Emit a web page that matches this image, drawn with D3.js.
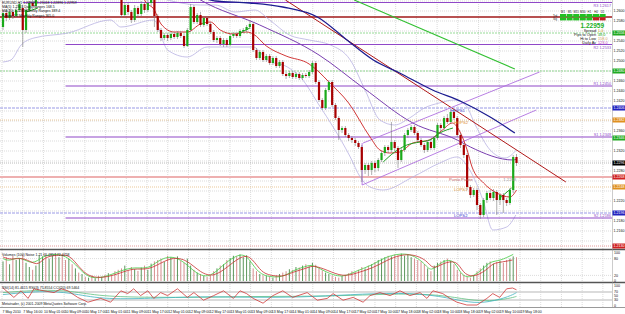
<!DOCTYPE html>
<html>
<head>
<meta charset="utf-8">
<script src="https://cdn.jsdelivr.net/npm/d3@7"></script>
<style>
body { margin: 0; background: #fff; }
svg { display: block; font-family: "Liberation Sans", Arial, sans-serif; }
</style>
</head>
<body>
<div id="chart"></div>
<script>
// prices are kept in 1/10000 (12596 = 1.2596)
var candles = [
  [12568,12602,12562,12596],[12596,12600,12580,12586],[12586,12604,12582,12598],[12598,12602,12584,12590],
  [12590,12608,12586,12602],[12602,12618,12598,12614],[12606,12612,12528,12562],[12562,12606,12556,12602],
  [12602,12620,12598,12616],[12616,12622,12604,12610],[12610,12638,12606,12632],[12632,12752,12626,12742],
  [12742,12802,12732,12782],[12782,12792,12752,12762],[12762,12822,12754,12812],[12812,12858,12802,12842],
  [12842,12852,12812,12822],[12822,12892,12814,12862],[12862,12872,12822,12832],[12832,12842,12794,12802],
  [12802,12834,12792,12822],[12822,12830,12774,12782],[12782,12802,12772,12792],[12792,12798,12754,12762],
  [12762,12782,12752,12772],[12772,12778,12734,12742],[12742,12762,12732,12752],[12752,12758,12714,12722],
  [12722,12742,12712,12732],[12732,12738,12694,12702],[12702,12722,12692,12712],[12712,12718,12674,12682],
  [12682,12702,12672,12692],[12692,12698,12654,12662],[12662,12670,12634,12642],[12642,12652,12624,12632],
  [12632,12638,12586,12592],[12592,12618,12588,12612],[12612,12616,12592,12598],[12598,12602,12576,12582],
  [12582,12612,12578,12606],[12606,12610,12588,12594],[12594,12620,12590,12614],[12614,12618,12596,12602],
  [12602,12622,12598,12616],[12616,12632,12610,12626],[12622,12628,12568,12590],[12590,12594,12558,12562],
  [12562,12566,12540,12546],[12546,12556,12542,12552],[12552,12556,12540,12546],[12546,12558,12542,12554],
  [12554,12558,12544,12548],[12548,12560,12544,12556],[12556,12560,12546,12550],[12550,12554,12526,12530],
  [12530,12566,12528,12562],[12562,12614,12558,12608],[12608,12612,12574,12578],[12578,12596,12574,12592],
  [12592,12598,12568,12572],[12572,12590,12568,12586],[12586,12590,12570,12574],[12574,12578,12554,12558],
  [12558,12562,12538,12542],[12542,12550,12536,12546],[12546,12550,12530,12534],[12534,12546,12528,12542],
  [12542,12546,12528,12532],[12532,12554,12530,12550],[12550,12558,12546,12554],[12554,12558,12546,12550],
  [12550,12564,12546,12560],[12560,12566,12556,12562],[12562,12572,12558,12568],[12568,12582,12564,12574],
  [12574,12578,12518,12522],[12522,12526,12502,12506],[12506,12522,12502,12518],[12518,12522,12498,12502],
  [12502,12514,12498,12510],[12510,12514,12492,12496],[12496,12510,12492,12506],[12506,12510,12486,12490],
  [12490,12502,12486,12498],[12498,12502,12470,12474],[12474,12478,12464,12470],[12470,12480,12466,12476],
  [12476,12480,12464,12468],[12468,12478,12464,12474],[12474,12478,12462,12466],[12466,12476,12462,12472],
  [12472,12476,12466,12470],[12470,12482,12466,12478],[12478,12500,12474,12496],[12496,12500,12454,12458],
  [12458,12462,12418,12422],[12422,12426,12402,12406],[12406,12446,12402,12442],[12442,12462,12438,12458],
  [12458,12462,12408,12412],[12412,12416,12382,12386],[12386,12390,12342,12362],[12362,12370,12356,12366],
  [12366,12370,12348,12352],[12352,12356,12340,12346],[12346,12350,12336,12342],[12342,12346,12330,12336],
  [12336,12340,12324,12328],[12328,12332,12258,12282],[12282,12296,12274,12292],[12292,12296,12270,12282],
  [12282,12300,12272,12296],[12296,12300,12278,12286],[12286,12306,12280,12302],[12302,12320,12298,12316],
  [12316,12332,12310,12328],[12328,12332,12316,12322],[12322,12378,12318,12338],[12338,12342,12320,12326],
  [12326,12330,12286,12302],[12302,12326,12298,12322],[12322,12356,12318,12352],[12352,12366,12346,12362],
  [12362,12372,12358,12368],[12368,12372,12352,12356],[12356,12360,12338,12342],[12342,12346,12328,12332],
  [12332,12336,12316,12322],[12322,12342,12318,12338],[12338,12342,12322,12326],[12326,12350,12322,12346],
  [12346,12376,12342,12372],[12372,12376,12360,12366],[12366,12390,12362,12386],[12386,12394,12374,12378],
  [12378,12404,12374,12398],[12398,12402,12382,12386],[12386,12390,12348,12352],[12352,12356,12326,12332],
  [12332,12336,12306,12312],[12312,12316,12242,12248],[12248,12252,12226,12232],[12232,12246,12228,12242],
  [12242,12246,12202,12212],[12212,12216,12184,12192],[12192,12226,12188,12222],[12222,12240,12216,12236],
  [12236,12242,12222,12226],[12226,12244,12220,12238],[12238,12242,12192,12222],[12222,12236,12212,12232],
  [12232,12236,12196,12222],[12222,12226,12210,12216],[12216,12246,12212,12242],[12242,12312,12236,12308],
  [12308,12314,12290,12296]
];

var volumes = [
  70,85,60,90,75,80,95,65,50,40, 55,92,88,95,80,90,98,85,92,75,
  80,60,45,30,25,15,12,20,10,18, 15,22,28,20,35,40,45,55,38,50,
  42,36,48,55,40,62,70,75,80,68, 90,85,78,88,72,65,80,55,40,30,
  25,18,15,20,35,45,55,60,75,82, 90,88,95,85,92,70,45,35,25,20,
  18,15,12,20,25,30,35,42,40,50, 48,55,60,52,65,58,45,38,30,25,
  20,15,12,18,22,28,35,32,40,50, 45,55,60,68,75,80,85,90,88,95,
  92,98,90,95,85,80,75,70,60,45, 35,55,65,70,75,80,72,60,40,30,
  22,15,12,20,35,45,55,65,70,62, 68,72,65,75,80,88,85
];
var volFast = [[0,80],[2,70],[5,90],[9,55],[12,90],[16,97],[19,90],[22,60],[25,20],[28,8],[32,18],[36,38],[40,50],[44,42],[47,72],[51,92],[55,70],[59,22],[63,12],[67,60],[71,93],[74,96],[77,35],[80,15],[85,12],[88,38],[92,52],[94,60],[98,32],[103,10],[107,35],[112,55],[116,85],[120,97],[124,97],[128,65],[130,30],[133,70],[137,80],[139,22],[142,8],[146,45],[148,70],[151,72],[155,95]];
var volSlow = [[0,86],[2.4,75],[6.4,86],[10.6,50],[12.4,86],[16.7,93],[19.7,93],[21.5,75],[24.5,29],[27.6,11],[31.8,14],[35.8,29],[39.7,46],[44,39],[47.9,64],[51.8,86],[56,75],[60,29],[64,14],[68.2,50],[72,86],[75,93],[78,39],[80.3,21],[85,14],[88,32],[92.4,46],[94.2,57],[98.5,39],[103.3,14],[107.6,29],[112.4,46],[116.7,75],[120.6,93],[124.5,96],[128.8,75],[130.6,39],[133.6,64],[137.9,75],[139.7,29],[142.7,11],[147,39],[148.8,64],[151.8,68],[154.8,75]];

var rsiFast = [[0,90],[3.3,43],[5.5,76],[7.6,38],[9.4,86],[12.4,76],[15.5,67],[17.6,86],[19.7,76],[22.7,43],[25.8,19],[29.7,38],[32.7,19],[35.8,76],[37.9,62],[39.7,86],[41.8,52],[44,76],[45.8,38],[47.9,67],[50,52],[53,86],[56,43],[58,67],[60.9,29],[64,52],[67,76],[70,38],[72,76],[74,62],[76,38],[79,14],[82,52],[85,76],[88,43],[92.4,67],[95.5,29],[98.5,38],[100.3,62],[103.3,29],[106.4,43],[109.4,19],[111.5,52],[114.5,67],[117.6,52],[120.6,76],[123.6,52],[126.7,67],[128.8,38],[130.6,76],[133.6,62],[135.8,38],[137.9,19],[140.9,5],[144,5],[147,38],[148.8,62],[150.9,43],[153,86],[154.8,90],[156,81]];
var rsiMid = [[0,57],[11.5,76],[20.6,67],[29.7,33],[44.8,38],[60,48],[75,43],[90.3,43],[105.5,57],[120.6,67],[132.7,52],[141.8,14],[147.9,19],[153.9,48],[156,67]];
var rsiSlow = [[0,67],[11.5,81],[20.6,76],[29.7,48],[44.8,43],[60,43],[75,48],[90.3,48],[105.5,52],[120.6,62],[132.7,57],[141.8,29],[147.9,24],[153.9,38],[156,48]];

var maRed = [[42,12640],[43,12622],[46,12602],[48,12574],[52,12558],[56,12558],[60,12574],[63,12578],[66,12562],[70,12554],[74,12558],[76,12554],[80,12530],[86,12510],[93,12494],[96,12478],[99,12458],[105,12416],[111.5,12348],[114.5,12322],[117.5,12316],[120.5,12318],[124.5,12336],[129.5,12342],[133.5,12362],[136.5,12376],[139,12356],[141,12322],[142.5,12288],[146,12256],[150,12236],[154,12228],[156,12242]];
var maPurple = [[58,12630],[60,12622],[78,12572],[96,12512],[109.5,12446],[124.5,12376],[138,12342],[142,12328],[155,12302],[156,12304]];
var maBlue = [[58,12634],[64.5,12620],[75,12616],[85,12608],[95.5,12588],[104.5,12542],[112.5,12502],[120.5,12476],[130.5,12442],[139.5,12418],[148,12388],[155.5,12356]];
var bandUpper = [[36,12642],[45,12632],[52.5,12618],[60,12612],[64.5,12612],[70.5,12598],[76.5,12602],[81,12582],[87,12552],[93,12542],[99.5,12532],[105.5,12502],[110,12442],[114.5,12382],[119,12372],[123.5,12386],[128,12406],[132.5,12416],[137,12422],[140.5,12412],[143.5,12372],[148,12322],[152.5,12306],[156,12322]];
var bandLower = [[0,12498],[2.4,12502],[5.5,12532],[9.4,12546],[19.7,12556],[32.7,12582],[35.8,12568],[45.8,12582],[50,12522],[56,12508],[62,12528],[70,12528],[76,12528],[80.3,12502],[86.4,12488],[90.3,12468],[96.4,12408],[100.3,12368],[105.5,12308],[108.5,12268],[111.5,12248],[115.5,12242],[124.5,12268],[132.7,12296],[137.9,12308],[141.8,12282],[145.8,12222],[148.8,12162],[153,12168],[155.8,12192]];
var greenSegs = [
  [[7,12598],[10.6,12606]],
  [[72,12556],[75,12566]],
  [[115.5,12298],[119,12318],[122.7,12332],[126.7,12338],[129.7,12342],[132.7,12356],[136.7,12366]],
  [[151,12226],[154.5,12246]]
];
var trendRed = [[85.8,12622],[171,12258]];
var trendGreen = [[106.7,12622],[155.5,12484]];
var channelUp = [[109.4,12336],[163,12478]];
var channelDown = [[109.1,12252],[162,12402]];
var channelEdge = [[109.1,12252],[109.1,12336]];

var pivotNames = ["R3", "R2", "R1", "S1", "S2"];
var pivotPrices = [12617, 12533, 12450, 12348, 12186];
var pivotFrom = [6, 19, 19, 19, 19];
var pivotBelow = [true, true, false, false, false];
var redLevel = 12588;

var levelPrices = [12556, 12480, 12406, 12382, 12296, 12268, 12248, 12196, 12130];
var levelColors = ["#7cd07c", "#7cd07c", "#9a9ae6", "#e6bb80", "#a8a8a8", "#eeb0b0", "#e6bb80", "#9a9ae6", "#e08080"];
var levelWidths = [0.8, 0.8, 1.1, 0.8, 0.8, 2, 0.8, 1.1, 0.8];
var levelDash = ["2,1", "2,1", "3,1", "1,1", "1,1", null, "1,1", "3,1", "1,1"];

var notes = [["HOPS1", 136, 12406, "#3a3ad0"], ["HOPS2", 137, 12382, "#e09030"], ["Punto Pivote", 135.5, 12268, "#c06060"],
             ["LOPS1", 137, 12248, "#e09030"], ["LOPS2", 137, 12196, "#3a3ad0"], ["1.2268", 152, 12268, "#999"]];

var tagPrices = [12556, 12480, 12406, 12382, 12346, 12296, 12268, 12248, 12196, 12130];
var tagColors = ["#22aa22", "#22aa22", "#2222c0", "#e09020", "#22aa22", "#000000", "#d02020", "#e09020", "#2222c0", "#d02020"];

var priceTicks = [12140,12160,12180,12200,12220,12240,12260,12280,12300,12320,12340,12360,12380,
                  12400,12420,12440,12460,12480,12500,12520,12540,12560,12580,12600,12620];
var volTicks = [0, 20, 80, 100];
var rsiTicks = [0, 30, 50, 70, 100];
var timeLabels = ["7 May 2010", "7 May 16:00", "10 May 01:00", "10 May 09:00", "10 May 17:00", "11 May 01:00",
  "11 May 09:00", "11 May 17:00", "12 May 01:00", "12 May 09:00", "12 May 17:00", "13 May 01:00",
  "13 May 09:00", "13 May 17:00", "14 May 01:00", "14 May 09:00", "14 May 17:00", "17 May 02:00",
  "17 May 10:00", "17 May 18:00", "18 May 02:00", "18 May 10:00", "18 May 18:00", "19 May 02:00",
  "19 May 10:00", "19 May 18:00"];

var legendLines = ["EURUSD,H1  1.22949 1.23018 1.22896 1.22959",
                   "MA(5) 1.2301   Daily Ranges 168.5",
                   "MA(20) 1.2283  Weekly Ranges 389.4",
                   "Range 1.2   Monthly Ranges 365.0"];
var frames = ["M1", "M5", "M15", "M30", "H1", "H4", "D1"];
var infoNames = ["Spread", "Pips to Open", "Hi to Low", "Daily Av"];
var infoValues = ["1.0", "48.0", "158.0", "123.0"];
var infoColors = ["#d0a000", "#22aa22", "#d0a060", "#c040c0"];

var W = 625, H = 314, plotR = 612;
var svg = d3.select("#chart").append("svg").attr("width", W).attr("height", H);
svg.append("rect").attr("width", W).attr("height", H).attr("fill", "#fff");

var x = d3.scaleLinear().domain([0, candles.length - 1]).range([3, 516.5]);
var y = d3.scaleLinear().domain([12124, 12622]).range([249, 0]);
var yVol = d3.scaleLinear().domain([0, 100]).range([281, 253]);
var yRsi = d3.scaleLinear().domain([0, 100]).range([306, 286]);
var tx = d3.scaleLinear().domain([0, timeLabels.length - 1]).range([2, 520]);

svg.append("clipPath").attr("id", "mainclip").append("rect")
  .attr("x", 0).attr("y", 0).attr("width", plotR).attr("height", 249);

// grid
var grid = svg.append("g").attr("stroke", "#c4c4c4").attr("stroke-width", 0.6).attr("stroke-dasharray", "1,1");
grid.selectAll(".gv").data(d3.range(30)).enter().append("line")
  .attr("x1", function (d) { return tx(d); }).attr("x2", function (d) { return tx(d); })
  .attr("y1", 0).attr("y2", 307);
grid.selectAll(".gh").data(priceTicks).enter().append("line")
  .attr("x1", 0).attr("x2", plotR)
  .attr("y1", function (d) { return y(d); }).attr("y2", function (d) { return y(d); });
grid.selectAll(".gvol").data([20, 80]).enter().append("line")
  .attr("x1", 0).attr("x2", plotR)
  .attr("y1", function (d) { return yVol(d); }).attr("y2", function (d) { return yVol(d); });

var main = svg.append("g").attr("clip-path", "url(#mainclip)");

// horizontal levels
main.selectAll(".lvl").data(levelPrices).enter().append("line")
  .attr("x1", 0).attr("x2", plotR)
  .attr("y1", function (d) { return y(d); }).attr("y2", function (d) { return y(d); })
  .attr("stroke", function (d, i) { return levelColors[i]; })
  .attr("stroke-width", function (d, i) { return levelWidths[i]; })
  .attr("stroke-dasharray", function (d, i) { return levelDash[i]; });
main.append("line").attr("x1", 0).attr("x2", plotR).attr("y1", y(redLevel)).attr("y2", y(redLevel))
  .attr("stroke", "#a01818").attr("stroke-width", 1.6);

var line = d3.line().x(function (d) { return x(d[0]); }).y(function (d) { return y(d[1]); });
var smooth = d3.line().x(function (d) { return x(d[0]); }).y(function (d) { return y(d[1]); }).curve(d3.curveMonotoneX);

// bands
[bandUpper, bandLower].forEach(function (b) {
  main.append("path").attr("d", smooth(b)).attr("fill", "none").attr("stroke", "#b9b2e2").attr("stroke-width", 0.8);
});

// pivots
main.selectAll(".pv").data(pivotPrices).enter().append("line")
  .attr("x1", function (d, i) { return x(pivotFrom[i]); }).attr("x2", plotR)
  .attr("y1", function (d) { return y(d); }).attr("y2", function (d) { return y(d); })
  .attr("stroke", "#9048c8").attr("stroke-width", 1.2);
main.selectAll(".pvt").data(pivotPrices).enter().append("text")
  .attr("x", plotR - 1).attr("y", function (d, i) { return pivotBelow[i] ? y(d) + 4.6 : y(d) - 1.3; })
  .attr("text-anchor", "end").attr("font-size", 3.8).attr("fill", "#9048c8")
  .text(function (d, i) { return pivotNames[i] + " " + (d / 10000).toFixed(4); });

// trend lines and channel
main.append("path").attr("d", line(trendGreen)).attr("stroke", "#33c033").attr("stroke-width", 1.1).attr("fill", "none");
main.append("path").attr("d", line(trendRed)).attr("stroke", "#b01818").attr("stroke-width", 1).attr("fill", "none");
[channelUp, channelDown, channelEdge].forEach(function (c) {
  main.append("path").attr("d", line(c)).attr("stroke", "#b070e0").attr("stroke-width", 0.9).attr("fill", "none");
});

// moving averages
main.append("path").attr("d", smooth(maBlue)).attr("fill", "none").attr("stroke", "#1c1c90").attr("stroke-width", 1.3);
main.append("path").attr("d", smooth(maPurple)).attr("fill", "none").attr("stroke", "#7a3fb0").attr("stroke-width", 1);
main.append("path").attr("d", smooth(maRed)).attr("fill", "none").attr("stroke", "#cc2020").attr("stroke-width", 0.9);
greenSegs.forEach(function (s) {
  main.append("path").attr("d", smooth(s)).attr("fill", "none").attr("stroke", "#22a022").attr("stroke-width", 1);
});

// candles
var up = "#1aaa1a", down = "#a80000";
var cg = main.selectAll(".candle").data(candles).enter().append("g");
cg.append("line")
  .attr("x1", function (d, i) { return x(i); }).attr("x2", function (d, i) { return x(i); })
  .attr("y1", function (d) { return y(d[1]); }).attr("y2", function (d) { return y(d[2]); })
  .attr("stroke", "#7a7a7a").attr("stroke-width", 0.6);
cg.append("rect")
  .attr("x", function (d, i) { return x(i) - 1.1; }).attr("width", 2.2)
  .attr("y", function (d) { return y(Math.max(d[0], d[3])); })
  .attr("height", function (d) { return Math.max(0.8, Math.abs(y(d[0]) - y(d[3]))); })
  .attr("fill", function (d) { return d[3] >= d[0] ? up : down; });

// annotations
main.selectAll(".note").data(notes).enter().append("text")
  .attr("x", function (d) { return x(d[1]); }).attr("y", function (d) { return y(d[2]) + 4.2; })
  .attr("font-size", 4.2).attr("fill", function (d) { return d[3]; })
  .text(function (d) { return d[0]; });

// top-left legend
svg.selectAll(".leg").data(legendLines).enter().append("text")
  .attr("x", 2).attr("y", function (d, i) { return 4 + i * 4.2; })
  .attr("font-size", 3.5).attr("fill", "#111").text(function (d) { return d; });

// info block top right
var info = svg.append("g");
info.selectAll(".fr").data(frames).enter().append("text")
  .attr("x", function (d, i) { return 563 + i * 6.6; }).attr("y", 12.5)
  .attr("text-anchor", "middle").attr("font-size", 2.8).attr("fill", "#222").text(function (d) { return d; });
[0, 1].forEach(function (r) {
  info.selectAll(".bx" + r).data(frames).enter().append("rect")
    .attr("x", function (d, i) { return 560 + i * 6.6; }).attr("y", 14 + r * 3.4)
    .attr("width", 6).attr("height", 3)
    .attr("fill", function (d, i) { return (r === 1 && i > 4) ? "#c02020" : "#22c022"; });
});
info.append("text").attr("x", 557).attr("y", 16.5).attr("text-anchor", "end").attr("font-size", 2.8).attr("fill", "#222").text("Trd");
info.append("text").attr("x", 557).attr("y", 20).attr("text-anchor", "end").attr("font-size", 2.8).attr("fill", "#222").text("Sig");
info.append("text").attr("x", 604).attr("y", 28).attr("text-anchor", "end").attr("font-size", 6.5)
  .attr("font-weight", "bold").attr("fill", "#22b022").text("1.22959");
info.selectAll(".in").data(infoNames).enter().append("text")
  .attr("x", 596).attr("y", function (d, i) { return 32 + i * 4.1; })
  .attr("text-anchor", "end").attr("font-size", 3.8).attr("fill", "#111").text(function (d) { return d; });
info.selectAll(".iv").data(infoValues).enter().append("text")
  .attr("x", 598).attr("y", function (d, i) { return 32 + i * 4.1; })
  .attr("font-size", 3.8).attr("fill", function (d, i) { return infoColors[i]; }).text(function (d) { return d; });

// volume panel
var vp = svg.append("g");
vp.selectAll(".vb").data(volumes).enter().append("line")
  .attr("x1", function (d, i) { return x(i); }).attr("x2", function (d, i) { return x(i); })
  .attr("y1", yVol(0)).attr("y2", function (d) { return yVol(d); })
  .attr("stroke", function (d, i) { return candles[i][3] >= candles[i][0] ? "#4a8a4a" : "#d08080"; })
  .attr("stroke-width", 0.9);
var vline = d3.line().x(function (d) { return x(d[0]); }).y(function (d) { return yVol(d[1]); }).curve(d3.curveBasis);
vp.append("path").attr("d", vline(volFast)).attr("fill", "none").attr("stroke", "#44cc44").attr("stroke-width", 0.8);
vp.append("path").attr("d", vline(volSlow)).attr("fill", "none").attr("stroke", "#c83030").attr("stroke-width", 0.8);
vp.append("text").attr("x", 2).attr("y", 255.5).attr("font-size", 3.5).attr("fill", "#111")
  .text("Volumes (100) Noise 1.21 65.4857 72.4758");

// rsi panel
var rp = svg.append("g");
rp.selectAll(".rl").data([30, 70]).enter().append("line")
  .attr("x1", 0).attr("x2", plotR)
  .attr("y1", function (d) { return yRsi(d); }).attr("y2", function (d) { return yRsi(d); })
  .attr("stroke", "#cfcfcf").attr("stroke-width", 1.5);
var rline = d3.line().x(function (d) { return x(d[0]); }).y(function (d) { return yRsi(d[1]); });
rp.append("path").attr("d", rline.curve(d3.curveBasis)(rsiSlow)).attr("fill", "none").attr("stroke", "#60c080").attr("stroke-width", 0.8);
rp.append("path").attr("d", rline.curve(d3.curveBasis)(rsiMid)).attr("fill", "none").attr("stroke", "#40b4c0").attr("stroke-width", 0.8);
rp.append("path").attr("d", rline.curve(d3.curveLinear)(rsiFast)).attr("fill", "none").attr("stroke", "#d03838").attr("stroke-width", 0.8);
rp.append("text").attr("x", 2).attr("y", 289).attr("font-size", 3.5).attr("fill", "#111")
  .text("RSI(14) 81.4615  RSI(3) 75.8554  CCI(20) 69.5464");
rp.append("text").attr("x", 2).attr("y", 305).attr("font-size", 3.5).attr("fill", "#111")
  .text("Metatrader, (c) 2001-2009 MetaQuotes Software Corp.");

// separators and borders
svg.selectAll(".sep").data([249.5, 282.5, 307.5]).enter().append("line")
  .attr("x1", 0).attr("x2", W).attr("y1", function (d) { return d; }).attr("y2", function (d) { return d; })
  .attr("stroke", "#555").attr("stroke-width", function (d, i) { return i < 2 ? 1.5 : 0.6; });
svg.append("line").attr("x1", plotR + 0.5).attr("x2", plotR + 0.5).attr("y1", 0).attr("y2", 307)
  .attr("stroke", "#999").attr("stroke-width", 0.5);

// price axis: plain labels are hidden where a coloured tag sits on top of them
var shownTicks = priceTicks.filter(function (t) {
  return y(t) > 3 && tagPrices.every(function (p) { return Math.abs(y(p) - y(t)) > 5; });
});
var ax = svg.append("g");
ax.selectAll(".pt").data(shownTicks).enter().append("text")
  .attr("x", 613.5).attr("y", function (d) { return y(d) + 1.3; })
  .attr("font-size", 3.6).attr("fill", "#111").text(function (d) { return (d / 10000).toFixed(4); });
ax.selectAll(".tg").data(tagPrices).enter().append("rect")
  .attr("x", 612.5).attr("width", 12.5).attr("y", function (d) { return y(d) - 2.5; }).attr("height", 5)
  .attr("fill", function (d, i) { return tagColors[i]; });
ax.selectAll(".tt").data(tagPrices).enter().append("text")
  .attr("x", 613.5).attr("y", function (d) { return y(d) + 1.3; })
  .attr("font-size", 3.6).attr("fill", "#fff").text(function (d) { return (d / 10000).toFixed(4); });
ax.selectAll(".vt").data(volTicks).enter().append("text")
  .attr("x", 614).attr("y", function (d) { return yVol(d) + 1.3; })
  .attr("font-size", 3.6).attr("fill", "#111").text(function (d) { return d; });
ax.selectAll(".rt").data(rsiTicks).enter().append("text")
  .attr("x", 614).attr("y", function (d) { return yRsi(d) + 1.3; })
  .attr("font-size", 3.6).attr("fill", "#111").text(function (d) { return d; });

// time axis
svg.selectAll(".tl").data(timeLabels).enter().append("text")
  .attr("x", function (d, i) { return tx(i) + 0.5; }).attr("y", 312.5)
  .attr("font-size", 3.5).attr("fill", "#111").text(function (d) { return d; });
</script>
</body>
</html>
